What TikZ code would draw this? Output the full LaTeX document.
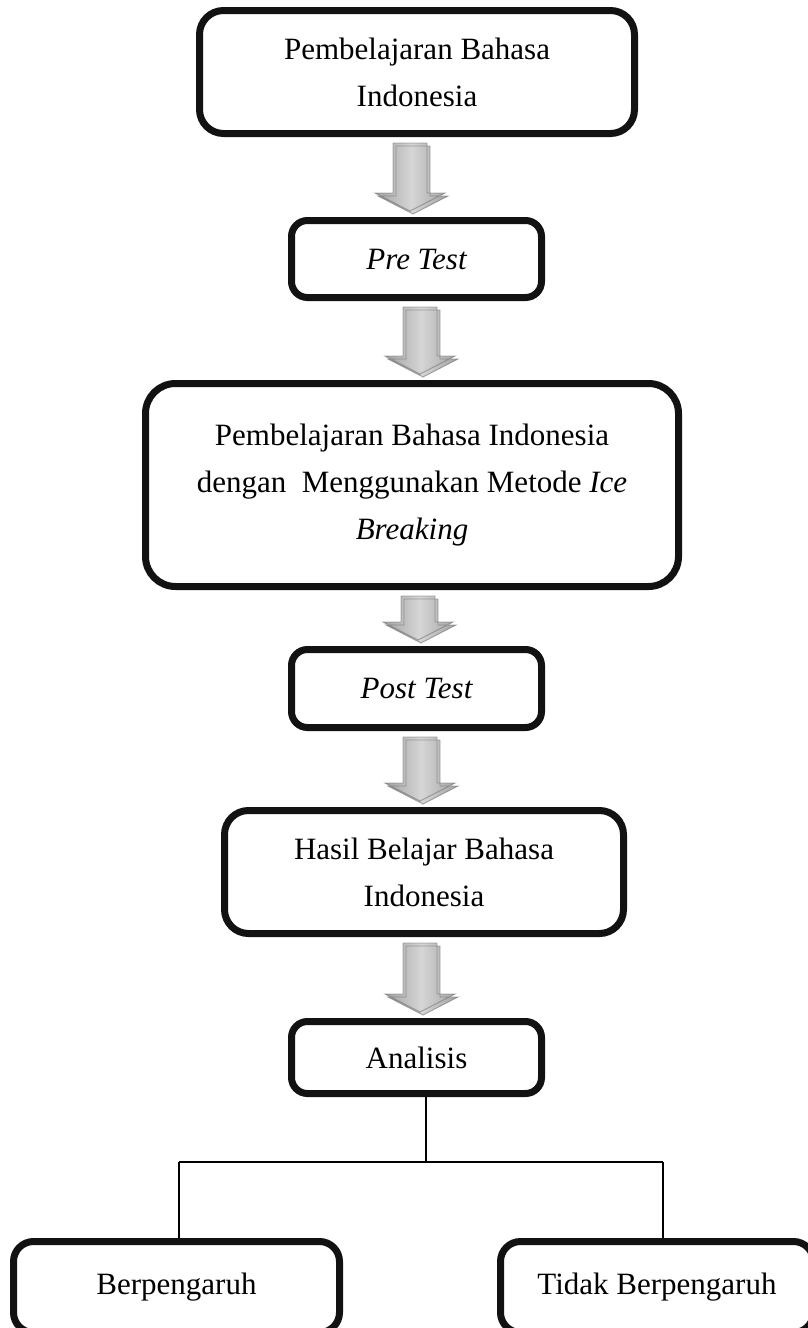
\documentclass[tikz,border=0pt]{standalone}
\usepackage{fontspec}
\setmainfont{Liberation Serif}
\usetikzlibrary{calc}
\tikzset{
  flowbox/.style={draw=black!93, line width=7pt, rounded corners=16pt, fill=white,
    inner sep=0pt, align=center, font=\fontsize{31}{47}\selectfont},
  bigbox/.style={flowbox, rounded corners=24pt},
  treeline/.style={draw=black, line width=1.4pt},
  arrowbody/.style={draw=black!55, line width=0.9pt, left color=black!52, right color=black!52, middle color=black!18},
  arrowshadow/.style={fill=black!22, opacity=0.6}
}
% block arrow from node #1 to node #2 at horizontal centre #3 (pt)
\newcommand{\blockarrow}[3]{%
  \path let \p1=(#1.south), \p2=(#2.north),
            \n1={\y1-6pt}, \n2={\y2+6pt}, \n3={\y2+24pt} in
    [arrowshadow] ({#3pt+20pt},\n1-3pt) -- ({#3pt+20pt},\n3-3pt) -- ({#3pt+38pt},\n3-3pt)
      -- ({#3pt+3pt},\n2-3pt) -- ({#3pt-32pt},\n3-3pt) -- ({#3pt-14pt},\n3-3pt) -- ({#3pt-14pt},\n1-3pt) -- cycle
    [arrowbody] ({#3pt-17pt},\n1) -- ({#3pt+17pt},\n1) -- ({#3pt+17pt},\n3) -- ({#3pt+35pt},\n3)
      -- ({#3pt},\n2) -- ({#3pt-35pt},\n3) -- ({#3pt-17pt},\n3) -- cycle;
}
\begin{document}
\begin{tikzpicture}[x=1pt,y=-1pt]
\useasboundingbox (0,0) rectangle (808,1328);

\node[bigbox, minimum width=435pt, minimum height=123pt] (b1) at (417,72)
  {Pembelajaran Bahasa\\Indonesia};
\node[flowbox, minimum width=250pt, minimum height=77pt] (b2) at (416.5,259)
  {\itshape Pre Test};
\node[bigbox, rounded corners=30pt, minimum width=533pt, minimum height=203pt] (b3) at (412,485)
  {Pembelajaran Bahasa Indonesia\\dengan\ \ Menggunakan Metode \textit{Ice}\\\textit{Breaking}};
\node[flowbox, minimum width=250pt, minimum height=78pt] (b4) at (416.5,688.5)
  {\itshape Post Test};
\node[bigbox, minimum width=399pt, minimum height=123pt] (b5) at (424,872)
  {Hasil Belajar Bahasa\\Indonesia};
\node[flowbox, minimum width=250pt, minimum height=72pt] (b6) at (416.5,1057.5)
  {Analisis};
\node[bigbox, rounded corners=20pt, minimum width=326pt, minimum height=91pt] (b7) at (176.5,1287)
  {Berpengaruh};
\node[bigbox, rounded corners=20pt, minimum width=313pt, minimum height=91pt] (b8) at (657,1287)
  {Tidak Berpengaruh};

\blockarrow{b1}{b2}{410}
\blockarrow{b2}{b3}{420}
\blockarrow{b3}{b4}{418}
\blockarrow{b4}{b5}{420}
\blockarrow{b5}{b6}{420}

\coordinate (split) at (426,1162);
\coordinate (lft) at (179,1162);
\coordinate (rgt) at (663,1162);
\draw[treeline] (b6.south -| split) -- (split);
\draw[treeline] (lft) -- (rgt);
\draw[treeline] (lft) -- (lft |- b7.north);
\draw[treeline] (rgt) -- (rgt |- b8.north);
\end{tikzpicture}
\end{document}
